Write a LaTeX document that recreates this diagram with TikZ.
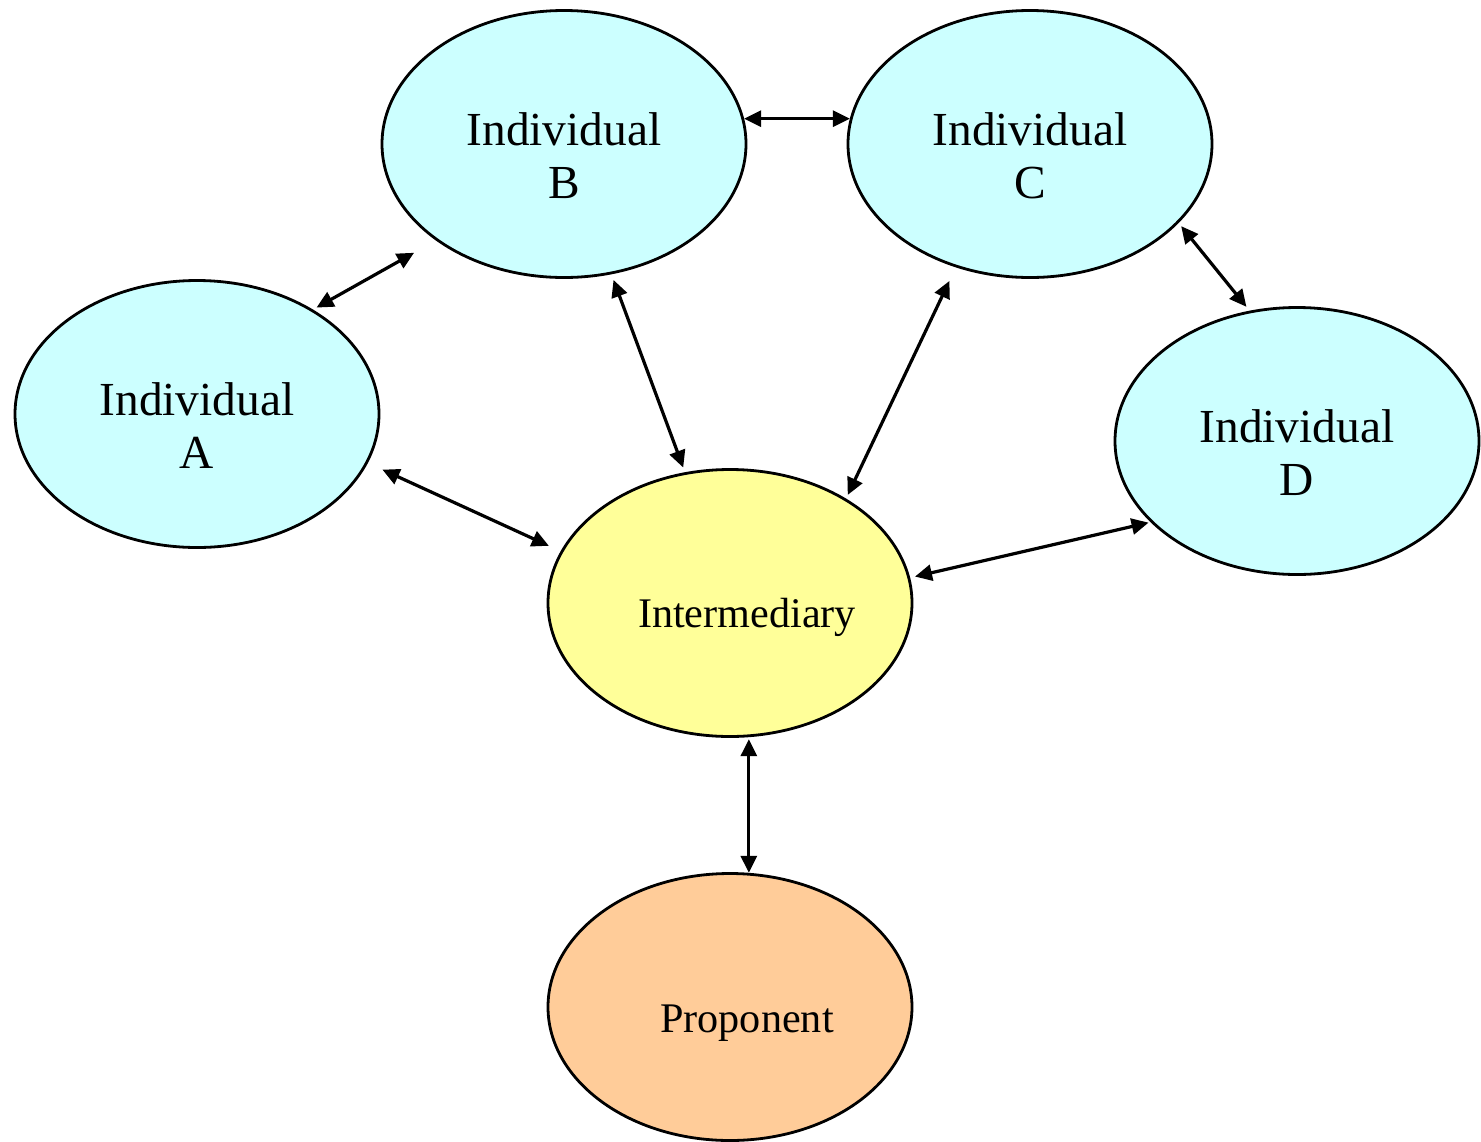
\documentclass[tikz,border=0pt]{standalone}
\usepackage{fontspec}
\setmainfont{Liberation Serif}
\usetikzlibrary{shapes.geometric,arrows.meta}
\definecolor{indfill}{HTML}{CCFFFF}
\definecolor{midfill}{HTML}{FFFF99}
\definecolor{profill}{HTML}{FFCC99}

\begin{document}
\begin{tikzpicture}[x=1pt,y={(0pt,-1pt)},
  blob/.style={ellipse, draw=black, line width=2.8pt,
    minimum width=364pt, minimum height=267pt, inner sep=0pt},
  bigtext/.style={font=\fontsize{47.4}{54}\selectfont, anchor=base, inner sep=0pt},
  midtext/.style={font=\fontsize{42.2}{50}\selectfont, anchor=base, inner sep=0pt},
  link/.style={line width=3.2pt,
    {Triangle[length=17pt,width=16pt]}-{Triangle[length=17pt,width=16pt]}}]

  % page area
  \fill[white] (0,0) rectangle (1481,1141);
  \useasboundingbox (0,0) rectangle (1481,1141);

  % participants
  \node[blob, fill=indfill] (A) at (197,414) {};
  \node[blob, fill=indfill] (B) at (564,144) {};
  \node[blob, fill=indfill] (C) at (1030,144) {};
  \node[blob, fill=indfill] (D) at (1297,441) {};
  \node[blob, fill=midfill] (I) at (730,603) {};
  \node[blob, fill=profill] (P) at (730,1007) {};

  % labels
  \node[bigtext] (At1) at (197,415) {Individual};
  \node[bigtext] (At2) at (197,468) {A};
  \node[bigtext] (Bt1) at (564,145) {Individual};
  \node[bigtext] (Bt2) at (564,198) {B};
  \node[bigtext] (Ct1) at (1030,145) {Individual};
  \node[bigtext] (Ct2) at (1030,198) {C};
  \node[bigtext] (Dt1) at (1297,442) {Individual};
  \node[bigtext] (Dt2) at (1297,495) {D};
  \node[midtext] (It) at (747,627) {Intermediary};
  \node[midtext] (Pt) at (747,1032) {Proponent};

  % two-way links
  \draw[link] (B.8) -- (C.172);
  \draw[link, shorten <=4pt, shorten >=25pt] (A.42.7) -- (B.-143.9);
  \draw[link, shorten <=6pt, shorten >=5pt] (B.-70) -- (I.109.8);
  \draw[link, shorten <=15pt, shorten >=4pt] (C.-121.2) -- (I.42.7);
  \draw[link, shorten <=4pt, shorten >=5pt] (C.-28.6) -- (D.110.6);
  \draw[link, shorten <=16pt, shorten >=13pt] (A.-16.5) -- (I.163.3);
  \draw[link, shorten <=5pt, shorten >=2pt] (I.8.6) -- (D.-151.6);
  \draw[link, shorten <=2pt] (I.-82.9) -- (P.82.8);
\end{tikzpicture}
\end{document}
